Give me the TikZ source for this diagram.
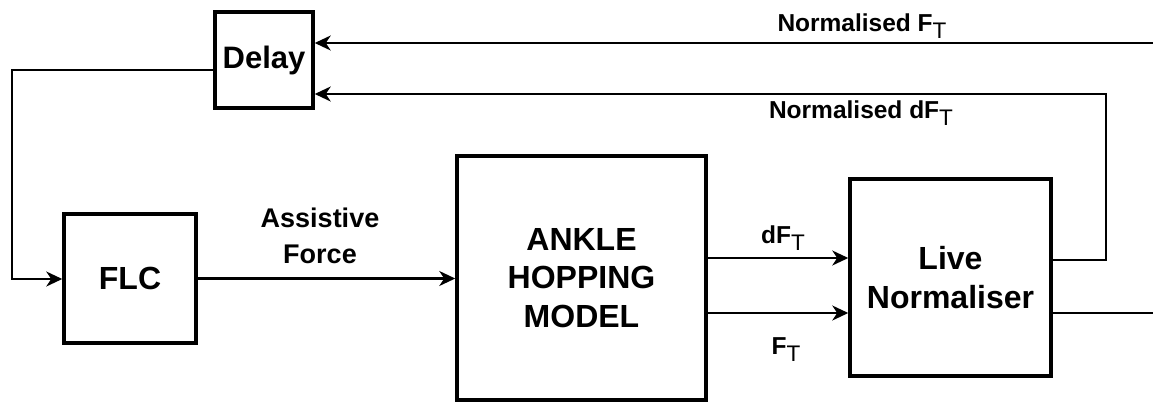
\documentclass[tikz,border=0pt]{standalone}
\usepackage{fontspec}
\setmainfont{Liberation Sans}
\usetikzlibrary{arrows.meta}
% lowered, slightly smaller subscript T
\newcommand{\lowT}{\raisebox{-0.32em}{\scalebox{0.92}{\mdseries T}}}
\begin{document}
\begin{tikzpicture}[x=1pt,y=-1pt,
  block/.style={draw, line width=3.5pt, inner sep=0pt, align=center,
    font=\bfseries\fontsize{32}{38.5}\selectfont},
  wire/.style={line width=2.3pt},
  arr/.style={wire, -{Stealth[length=16pt,width=15pt,inset=5pt]}},
  lbl/.style={inner sep=0pt, align=center, font=\bfseries\fontsize{24.5}{30}\selectfont}]
\useasboundingbox (0,0) rectangle (1153,405);

% blocks
\node[block, minimum width=98pt, minimum height=96pt,
      font=\bfseries\fontsize{31}{36}\selectfont] (delay) at (264,60) {Delay};
\node[block, minimum width=132pt, minimum height=129pt] (flc) at (130,278.5) {FLC};
\node[block, minimum width=249pt, minimum height=244pt] (ankle) at (581.5,278) {ANKLE\\HOPPING\\MODEL};
\node[block, minimum width=201pt, minimum height=197pt] (ln) at (950.5,277.5) {Live\\Normaliser};

% bend points and free ends
\coordinate (fIn) at (1153,43);
\coordinate (dfR) at (1106,260);
\coordinate (dfTop) at (1106,94);
\coordinate (fbTop) at (12,70);
\coordinate (fbBot) at (12,279);
\coordinate (outF) at (1153,313);
\coordinate (dfRow) at (0,258);
\coordinate (fRow) at (0,313);

% feedback paths into the delay
\draw[arr] (fIn) -- (fIn -| delay.east);
\draw[arr] (ln.east |- dfR) -- (dfR) -- (dfTop) -- (delay.east |- dfTop);
\draw[arr] (delay.west |- fbTop) -- (fbTop) -- (fbBot) -- (flc.west |- fbBot);

% forward paths
\draw[arr] (flc.east) -- (flc.east -| ankle.west);
\draw[arr] (ankle.east |- dfRow) -- (ln.west |- dfRow);
\draw[arr] (ankle.east |- fRow) -- (ln.west |- fRow);
\draw[wire] (ln.east |- outF) -- (outF);

% signal labels
\node[lbl, anchor=base] (lF) at (862,31) {Normalised F\lowT};
\node[lbl, anchor=base] (ldF) at (861,118) {Normalised dF\lowT};
\node[lbl, font=\bfseries\fontsize{27}{36}\selectfont] (lAF) at (320,236) {Assistive\\Force};
\node[lbl, anchor=base] (ldFT) at (783,243) {dF\lowT};
\node[lbl, anchor=base] (lFT) at (786,354) {F\lowT};
\end{tikzpicture}
\end{document}
